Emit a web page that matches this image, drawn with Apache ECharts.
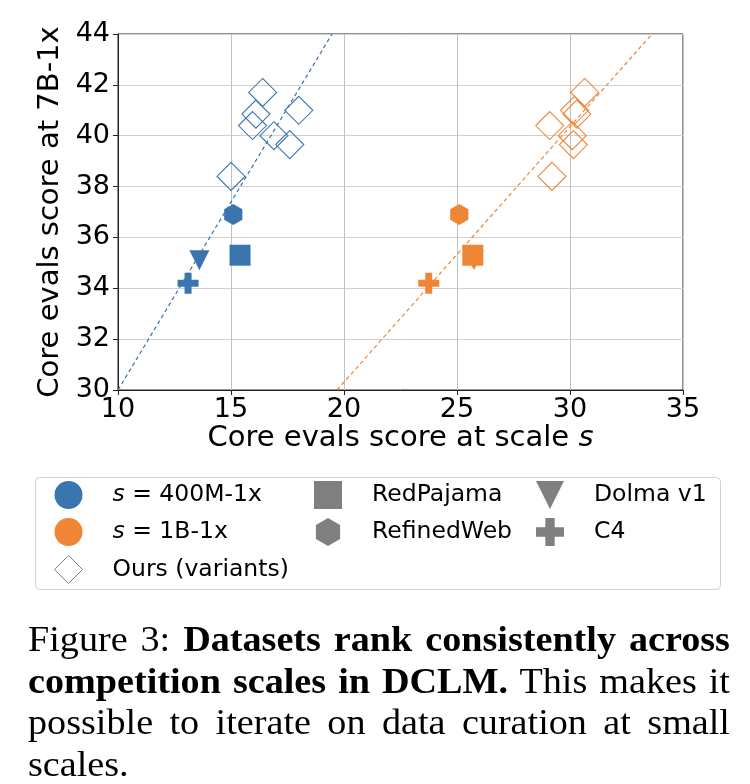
<!DOCTYPE html>
<html>
<head>
<meta charset="utf-8">
<title>DCLM Figure 3</title>
<script src="https://cdn.jsdelivr.net/npm/echarts/dist/echarts.min.js"></script>
<style>
    body { margin: 0; background: #fff; }
    #main { position: absolute; left: 0; top: 0; width: 750px; height: 784px; }
    .caption {
        position: absolute; left: 28px; top: 619px; width: 653px;
        transform: scaleX(1.075); transform-origin: 0 0;
        font-family: 'Liberation Serif', 'Times New Roman', serif;
        font-size: 35.5px; line-height: 41.5px; color: #000;
    }
    .caption div { text-align: justify; text-align-last: justify; white-space: nowrap; }
    .caption div.last { text-align-last: left; }
</style>
</head>
<body>
<div id="main"></div>
<div class="caption">
    <div>Figure 3: <b>Datasets rank consistently across</b></div>
    <div><b>competition scales in DCLM.</b> This makes it</div>
    <div>possible to iterate on data curation at small</div>
    <div class="last">scales.</div>
</div>
<script>
    // baseline datasets, scores at the two small scales and at 7B-1x
    var datasets = ['RedPajama', 'RefinedWeb', 'Dolma v1', 'C4'];
    var score400M = [15.4, 15.1, 13.6, 13.1];
    var score1B = [25.7, 25.1, 25.75, 23.75];
    var score7B = [35.3, 36.9, 35.1, 34.2];

    // our variants
    var ours7B = [38.4, 41.7, 40.85, 40.4, 40.0, 39.65, 41.0];
    var ours400M = [15.0, 16.4, 16.1, 15.95, 16.9, 17.6, 18.0];
    var ours1B = [29.2, 30.65, 30.3, 29.1, 30.1, 30.15, 30.2];

    // dashed fit lines (end points)
    var fit400M = [[10, 30], [19.47, 44]];
    var fit1B = [[19.69, 30], [33.63, 44]];

    var xTicks = [10, 15, 20, 25, 30, 35];
    var yTicks = [30, 32, 34, 36, 38, 40, 42, 44];

    var blue = '#3a75af';
    var orange = '#ef8636';
    var gray = '#808080';

    var shapes = {
        'RedPajama': {symbol: 'rect', size: 21},
        'RefinedWeb': {symbol: 'path://M0,-10 L8.66,-5 L8.66,5 L0,10 L-8.66,5 L-8.66,-5 Z', size: 21},
        'Dolma v1': {symbol: 'path://M-1,-1 L1,-1 L0,1 Z', size: 20},
        'C4': {symbol: 'path://M-1,-3 L1,-3 L1,-1 L3,-1 L3,1 L1,1 L1,3 L-1,3 L-1,1 L-3,1 L-3,-1 L-1,-1 Z', size: 21}
    };

    var series = [];

    function fitLine(name, pts, color) {
        return {
            name: name, type: 'line', data: pts, symbol: 'none', silent: true, z: 1,
            lineStyle: {color: color, width: 1.2, type: [4, 3]}
        };
    }
    series.push(fitLine('fit 400M', fit400M, blue));
    series.push(fitLine('fit 1B', fit1B, orange));

    function oursSeries(name, xs, color) {
        return {
            name: name, type: 'scatter', symbol: 'diamond', symbolSize: 28, z: 3,
            data: xs.map(function (x, i) { return [x, ours7B[i]]; }),
            itemStyle: {color: 'rgba(0,0,0,0)', borderColor: color, borderWidth: 1.1, opacity: 1}
        };
    }
    series.push(oursSeries('ours 400M', ours400M, blue));
    series.push(oursSeries('ours 1B', ours1B, orange));

    datasets.forEach(function (d, i) {
        [[score400M, blue, '400M'], [score1B, orange, '1B']].forEach(function (s) {
            series.push({
                name: d + ' ' + s[2], type: 'scatter', z: 4,
                symbol: shapes[d].symbol, symbolSize: shapes[d].size, symbolKeepAspect: true,
                data: [[s[0][i], score7B[i]]],
                itemStyle: {color: s[1], opacity: 1}
            });
        });
    });

    // empty series that only feed the legend
    var legendItems = [
        {name: 's = 400M-1x', icon: 'circle', color: blue},
        {name: 's = 1B-1x', icon: 'circle', color: orange},
        {name: 'Ours (variants)', icon: 'diamond', color: '#fff'},
        {name: 'RedPajama', icon: 'rect', color: gray},
        {name: 'RefinedWeb', icon: shapes['RefinedWeb'].symbol, color: gray},
        {name: 'Dolma v1', icon: shapes['Dolma v1'].symbol, color: gray},
        {name: 'C4', icon: shapes['C4'].symbol, color: gray}
    ];
    legendItems.forEach(function (it) {
        series.push({name: it.name, type: 'scatter', data: [], symbol: it.icon,
            itemStyle: {color: it.color, opacity: 1}});
    });

    function legendData(names) {
        return names.map(function (n) {
            var it = legendItems.filter(function (l) { return l.name === n; })[0];
            var st = {color: it.color, opacity: 1};
            if (n === 'Ours (variants)') {
                st = {color: '#fff', borderColor: gray, borderWidth: 1, opacity: 1};
            }
            return {name: n, icon: it.icon, itemStyle: st};
        });
    }

    var legendText = {
        fontFamily: 'DejaVu Sans', fontSize: 23.5, color: '#000', padding: [0, 0, 0, 25],
        rich: {i: {fontFamily: 'DejaVu Sans', fontStyle: 'italic', fontSize: 23.5, color: '#000'}}
    };
    function legendFmt(name) {
        if (name.indexOf('s = ') === 0) {
            return '{i|s} = ' + name.slice(4);
        }
        return name;
    }
    function makeLegend(left, names) {
        return {
            orient: 'vertical', left: left, top: 476, itemWidth: 28, itemHeight: 28, itemGap: 9,
            selectedMode: false, symbolKeepAspect: true,
            data: legendData(names), textStyle: legendText, formatter: legendFmt
        };
    }

    var myChart = echarts.init(document.getElementById('main'));

    var option = {
        backgroundColor: '#fff',
        animation: false,
        grid: {left: 118, right: 67, top: 34, bottom: 394, show: true, borderColor: '#222', borderWidth: 1},
        legend: [
            makeLegend(49, ['s = 400M-1x', 's = 1B-1x', 'Ours (variants)']),
            makeLegend(309, ['RedPajama', 'RefinedWeb']),
            makeLegend(531, ['Dolma v1', 'C4'])
        ],
        graphic: [{
            type: 'rect', left: 35, top: 477, z: -1,
            shape: {width: 685, height: 112, r: 4},
            style: {fill: '#fff', stroke: '#d0d0d0', lineWidth: 1}
        }],
        xAxis: {
            type: 'value', min: xTicks[0], max: xTicks[xTicks.length - 1], interval: 5,
            name: 'Core evals score at scale {i|s}', nameLocation: 'middle', nameGap: 34,
            nameTextStyle: {
                fontFamily: 'DejaVu Sans', fontSize: 29, color: '#000', verticalAlign: 'top',
                rich: {i: {fontFamily: 'DejaVu Sans', fontStyle: 'italic', fontSize: 29, color: '#000'}}
            },
            axisLine: {lineStyle: {color: '#222'}},
            axisTick: {show: true, length: 5, lineStyle: {color: '#222'}},
            axisLabel: {fontFamily: 'DejaVu Sans', fontSize: 27, color: '#000', margin: 6},
            splitLine: {show: true, lineStyle: {color: '#c0c0c0', width: 1}}
        },
        yAxis: {
            type: 'value', min: yTicks[0], max: yTicks[yTicks.length - 1], interval: 2,
            name: 'Core evals score at 7B-1x', nameLocation: 'middle', nameGap: 51,
            nameTextStyle: {fontFamily: 'DejaVu Sans', fontSize: 29, color: '#000'},
            axisLine: {show: true, lineStyle: {color: '#222'}},
            axisTick: {show: true, length: 5, lineStyle: {color: '#222'}},
            axisLabel: {fontFamily: 'DejaVu Sans', fontSize: 27, color: '#000', margin: 8},
            splitLine: {show: true, lineStyle: {color: '#d0d0d0', width: 1}}
        },
        series: series
    };

    myChart.setOption(option);
</script>
</body>
</html>
